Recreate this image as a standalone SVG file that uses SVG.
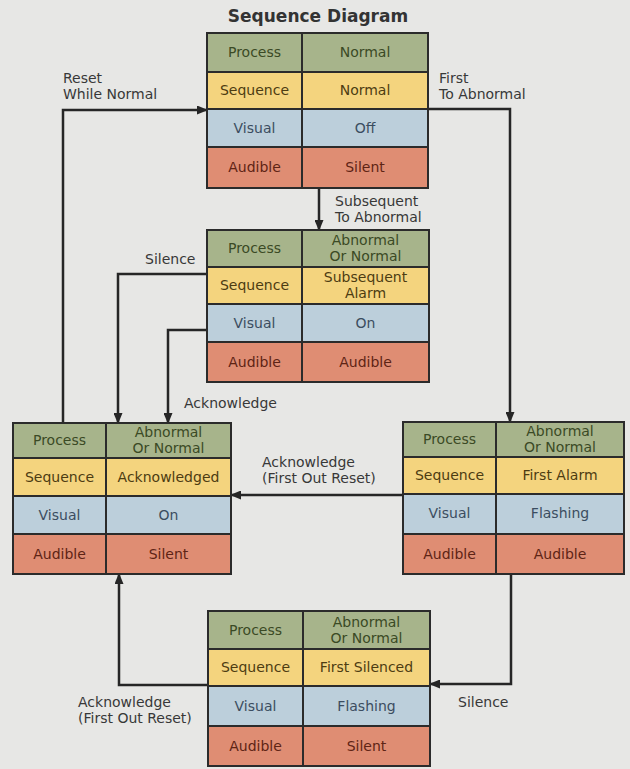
<svg xmlns="http://www.w3.org/2000/svg" width="630" height="769" viewBox="0 0 630 769">
<defs>
<marker id="ah" markerWidth="11" markerHeight="9" refX="10" refY="4.5" orient="auto" markerUnits="userSpaceOnUse">
<path d="M0,0 L11,4.5 L0,9 z" fill="#262626"/>
</marker>
<style>
text{font-family:"DejaVu Sans","Liberation Sans",sans-serif;font-size:14px;text-anchor:middle}
.p{fill:#a7b48b}.s{fill:#f4d47e}.v{fill:#bccfdb}.a{fill:#df8d73}
.tp{fill:#3b4a25}.ts{fill:#4d3c12}.tv{fill:#3b4d60}.ta{fill:#5e2415}
.b{fill:none;stroke:#2b2b2b;stroke-width:2}
.c{fill:none;stroke:#262626;stroke-width:2.5;marker-end:url(#ah)}
.lab{fill:#383838;text-anchor:start}
.title{font-weight:bold;font-size:17px;fill:#333}
</style>
</defs>
<rect width="630" height="769" fill="#e7e7e5"/>
<text class="title" x="318" y="22">Sequence Diagram</text>

<g id="connectors">
<path class="c" d="M63,423 V110 H207"/>
<path class="c" d="M428,109 H510 V422"/>
<path class="c" d="M319,188 V230"/>
<path class="c" d="M207,274 H118 V423"/>
<path class="c" d="M207,330 H168 V423"/>
<path class="c" d="M403,495 H231"/>
<path class="c" d="M511,574 V684 H430"/>
<path class="c" d="M208,685 H119 V574"/>
<text class="lab" x="63" y="83">Reset</text>
<text class="lab" x="63" y="99">While Normal</text>
<text class="lab" x="439" y="83">First</text>
<text class="lab" x="439" y="99">To Abnormal</text>
<text class="lab" x="335" y="206">Subsequent</text>
<text class="lab" x="335" y="222">To Abnormal</text>
<text class="lab" x="145" y="264">Silence</text>
<text class="lab" x="184" y="408">Acknowledge</text>
<text class="lab" x="262" y="467">Acknowledge</text>
<text class="lab" x="262" y="483">(First Out Reset)</text>
<text class="lab" x="458" y="707">Silence</text>
<text class="lab" x="78" y="707">Acknowledge</text>
<text class="lab" x="78" y="723">(First Out Reset)</text>
</g>

<g id="normal">
<rect class="p" x="207" y="33" width="221" height="39"/>
<rect class="s" x="207" y="72" width="221" height="37"/>
<rect class="v" x="207" y="109" width="221" height="38"/>
<rect class="a" x="207" y="147" width="221" height="41"/>
<path class="b" d="M207,33 H428 V188 H207 Z M207,72 H428 M207,109 H428 M207,147 H428 M302,33 V188"/>
<text class="tp" x="254.5" y="57">Process</text>
<text class="tp" x="365" y="57">Normal</text>
<text class="ts" x="254.5" y="95">Sequence</text>
<text class="ts" x="365" y="95">Normal</text>
<text class="tv" x="254.5" y="133">Visual</text>
<text class="tv" x="365" y="133">Off</text>
<text class="ta" x="254.5" y="172">Audible</text>
<text class="ta" x="365" y="172">Silent</text>
</g>

<g id="subsequent-alarm">
<rect class="p" x="207" y="230" width="222" height="37"/>
<rect class="s" x="207" y="267" width="222" height="37"/>
<rect class="v" x="207" y="304" width="222" height="38"/>
<rect class="a" x="207" y="342" width="222" height="40"/>
<path class="b" d="M207,230 H429 V382 H207 Z M207,267 H429 M207,304 H429 M207,342 H429 M302,230 V382"/>
<text class="tp" x="254.5" y="253">Process</text>
<text class="tp" x="365.5" y="245">Abnormal</text>
<text class="tp" x="365.5" y="261">Or Normal</text>
<text class="ts" x="254.5" y="290">Sequence</text>
<text class="ts" x="365.5" y="282">Subsequent</text>
<text class="ts" x="365.5" y="298">Alarm</text>
<text class="tv" x="254.5" y="328">Visual</text>
<text class="tv" x="365.5" y="328">On</text>
<text class="ta" x="254.5" y="367">Audible</text>
<text class="ta" x="365.5" y="367">Audible</text>
</g>

<g id="acknowledged">
<rect class="p" x="13" y="423" width="218" height="35"/>
<rect class="s" x="13" y="458" width="218" height="38"/>
<rect class="v" x="13" y="496" width="218" height="38"/>
<rect class="a" x="13" y="534" width="218" height="40"/>
<path class="b" d="M13,423 H231 V574 H13 Z M13,458 H231 M13,496 H231 M13,534 H231 M106,423 V574"/>
<text class="tp" x="59.5" y="445">Process</text>
<text class="tp" x="168.5" y="437">Abnormal</text>
<text class="tp" x="168.5" y="453">Or Normal</text>
<text class="ts" x="59.5" y="482">Sequence</text>
<text class="ts" x="168.5" y="482">Acknowledged</text>
<text class="tv" x="59.5" y="520">Visual</text>
<text class="tv" x="168.5" y="520">On</text>
<text class="ta" x="59.5" y="559">Audible</text>
<text class="ta" x="168.5" y="559">Silent</text>
</g>

<g id="first-alarm">
<rect class="p" x="403" y="422" width="221" height="35"/>
<rect class="s" x="403" y="457" width="221" height="37"/>
<rect class="v" x="403" y="494" width="221" height="40"/>
<rect class="a" x="403" y="534" width="221" height="40"/>
<path class="b" d="M403,422 H624 V574 H403 Z M403,457 H624 M403,494 H624 M403,534 H624 M496,422 V574"/>
<text class="tp" x="449.5" y="444">Process</text>
<text class="tp" x="560" y="436">Abnormal</text>
<text class="tp" x="560" y="452">Or Normal</text>
<text class="ts" x="449.5" y="480">Sequence</text>
<text class="ts" x="560" y="480">First Alarm</text>
<text class="tv" x="449.5" y="518">Visual</text>
<text class="tv" x="560" y="518">Flashing</text>
<text class="ta" x="449.5" y="559">Audible</text>
<text class="ta" x="560" y="559">Audible</text>
</g>

<g id="first-silenced">
<rect class="p" x="208" y="611" width="222" height="38"/>
<rect class="s" x="208" y="649" width="222" height="37"/>
<rect class="v" x="208" y="686" width="222" height="40"/>
<rect class="a" x="208" y="726" width="222" height="40"/>
<path class="b" d="M208,611 H430 V766 H208 Z M208,649 H430 M208,686 H430 M208,726 H430 M303,611 V766"/>
<text class="tp" x="255.5" y="635">Process</text>
<text class="tp" x="366.5" y="627">Abnormal</text>
<text class="tp" x="366.5" y="643">Or Normal</text>
<text class="ts" x="255.5" y="672">Sequence</text>
<text class="ts" x="366.5" y="672">First Silenced</text>
<text class="tv" x="255.5" y="711">Visual</text>
<text class="tv" x="366.5" y="711">Flashing</text>
<text class="ta" x="255.5" y="751">Audible</text>
<text class="ta" x="366.5" y="751">Silent</text>
</g>
</svg>
